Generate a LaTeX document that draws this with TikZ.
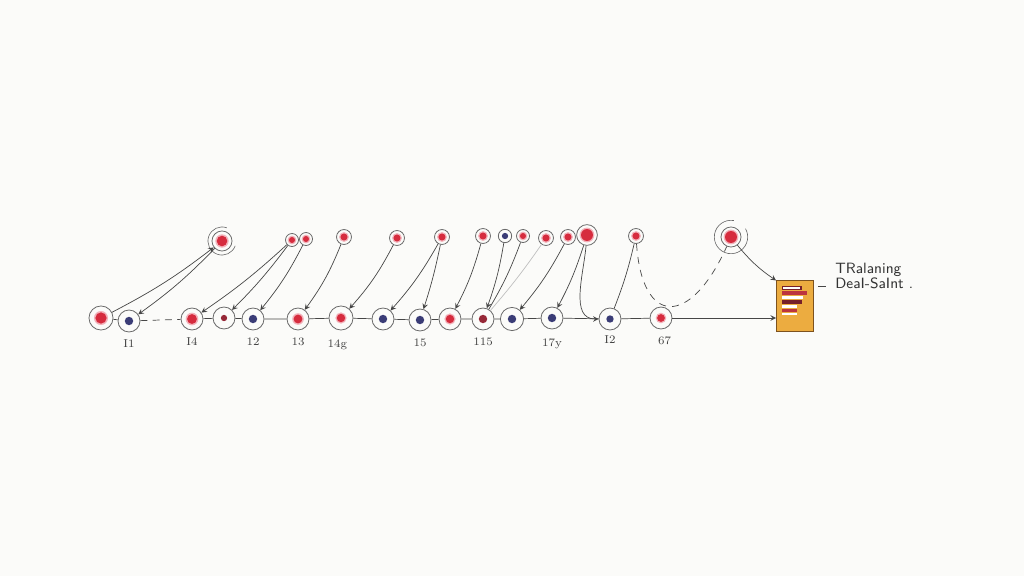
\documentclass[tikz,border=0pt]{standalone}
\usepackage{xcolor,tikz}
\usetikzlibrary{calc,positioning,arrows}
\tikzset{>=stealth}
\definecolor{paper}{RGB}{251,251,249}
\definecolor{ringgray}{RGB}{105,105,105}
\definecolor{linkgray}{RGB}{70,70,70}
\definecolor{dotred}{RGB}{214,44,62}
\definecolor{halo}{RGB}{242,178,186}
\definecolor{dotblue}{RGB}{58,60,118}
\definecolor{darkred}{RGB}{150,40,55}
\definecolor{boxfill}{RGB}{236,172,64}
\definecolor{boxedge}{RGB}{125,82,30}
\definecolor{stripered}{RGB}{188,52,62}
\definecolor{maroon}{RGB}{118,32,42}
\tikzset{
  cell/.style={circle, draw=ringgray, line width=0.45pt, inner sep=0pt, minimum size=#1},
  cell/.default=12.5pt,
  redcore/.style={path picture={\fill[halo] (path picture bounding box.center) circle ({#1+0.8pt});
                                \fill[dotred] (path picture bounding box.center) circle (#1);}},
  redcore/.default=2.8pt,
  bluecore/.style={path picture={\fill[dotblue] (path picture bounding box.center) circle (#1);}},
  bluecore/.default=2.4pt,
  link/.style={draw=linkgray, line width=0.4pt},
  faint/.style={draw=black!25},
  tag/.style={font=\fontsize{6.5}{7}\selectfont, text=black!75, inner sep=0pt},
  boxshape/.style={rectangle, draw=boxedge, line width=0.6pt, fill=boxfill,
                   minimum width=21pt, minimum height=28.5pt, inner sep=0pt},
}
\begin{document}
\begin{tikzpicture}[x=0.02cm, y=0.02cm]
        \useasboundingbox[fill=paper] (0,0) rectangle (1024,576);
        %%%% bottom row
        \node[cell=13.7pt, redcore=3.2pt] (b1) at (101,258) {};
        \node[cell, bluecore] (b2) at (129,255) {};
        \node[cell, redcore] (b3) at (192,257) {};
        \node[cell, path picture={\fill[darkred] (path picture bounding box.center) circle (1.8pt);}] (b4) at (224,258) {};
        \node[cell, bluecore] (b5) at (253,257) {};
        \node[cell, redcore=2.5pt] (b6) at (298,257) {};
        \node[cell=13.7pt, redcore=2.4pt] (b7) at (341,258) {};
        \node[cell, bluecore] (b8) at (383,257) {};
        \node[cell, bluecore] (b9) at (420,256) {};
        \node[cell, redcore=2.4pt] (b10) at (450,257) {};
        \node[cell, path picture={\fill[darkred] (path picture bounding box.center) circle (2.4pt);}] (b11) at (483,257) {};
        \node[cell=13.2pt, bluecore] (b12) at (512,257) {};
        \node[cell, bluecore] (b13) at (552,258) {};
        \node[cell, bluecore=2.1pt] (b14) at (610,257) {};
        \node[cell, redcore=2.2pt] (b15) at (661,258) {};
        \node[boxshape] (box) at (795,270) {};
        %%%% top row
        \node[cell=11.4pt, redcore=3pt] (t1) at (222,335) {};
        \node[cell=7.4pt, redcore=1.7pt] (t2) at (292,336) {};
        \node[cell=7.4pt, redcore=1.7pt] (t3) at (306,337) {};
        \node[cell=8.5pt, redcore=2pt] (t4) at (344,339) {};
        \node[cell=8.5pt, redcore=2pt] (t5) at (397,338) {};
        \node[cell=8.5pt, redcore=2pt] (t6) at (442,339) {};
        \node[cell=8.5pt, redcore=2pt] (t7) at (483,340) {};
        \node[cell=7.6pt, bluecore=1.8pt] (t8) at (505,340) {};
        \node[cell=7.4pt, redcore=1.7pt] (t9) at (523,340) {};
        \node[cell=8.5pt, redcore=2pt] (t10) at (546,338) {};
        \node[cell=8.5pt, redcore=2pt] (t11) at (568,339) {};
        \node[cell=11.8pt, redcore=3.4pt] (t12) at (587,341) {};
        \node[cell=8.5pt, redcore=2pt] (t13) at (636,340) {};
        \node[cell=11.4pt, redcore=3.4pt] (t14) at (731,339) {};
        \draw[ringgray, line width=0.35pt] ([shift={(70:8pt)}]t1.center) arc[start angle=70, end angle=340, radius=8pt];
        \draw[ringgray, line width=0.35pt] ([shift={(80:9.5pt)}]t14.center) arc[start angle=80, end angle=390, radius=9.5pt];
        %%%% stripes in the box
        \fill[maroon] ($(box.north west)+(6,-6)$) rectangle ++(20,-4);
        \fill[white] ($(box.north west)+(7,-7)$) rectangle ++(17,-2);
        \fill[stripered] ($(box.north west)+(6,-11)$) rectangle ++(25,-3.5);
        \fill[white] ($(box.north west)+(6,-16)$) rectangle ++(21,-3);
        \fill[maroon] ($(box.north west)+(6,-20)$) rectangle ++(20,-3.5);
        \fill[white] ($(box.north west)+(6,-24.5)$) rectangle ++(15,-3);
        \fill[stripered] ($(box.north west)+(6,-28.5)$) rectangle ++(15,-3);
        \fill[white] ($(box.north west)+(6,-32.5)$) rectangle ++(15,-2.5);
        %%%% baseline
        \draw[link] (b1) -- (b2);
        \draw[link, dash pattern=on 4pt off 3pt] (b2) -- (b3);
        \draw[link] (b3) -- (b4) -- (b5) -- (b6) -- (b7) -- (b8) -- (b9) -- (b10)
                    -- (b11) -- (b12) -- (b13) -- (b14) -- (b15);
        \draw[link, ->] (b15) -- (b15 -| box.west);
        %%%% curved links
        \draw[link, ->] (b1) to[bend right=5] (t1);
        \draw[link, ->] (t1) to[bend left=5] (b2);
        \draw[link, ->] (t2) to[bend left=4] (b3);
        \draw[link, ->] (t2) to[bend left=4] (b4);
        \draw[link, ->] (t3) to[bend left=6] (b5);
        \draw[link, ->] (t4) to[bend left=7] (b6);
        \draw[link, ->] (t5) to[bend left=7] (b7);
        \draw[link, ->] (t6) to[bend left=6] (b8);
        \draw[link, ->] (t6) to[bend left=3] (b9);
        \draw[link, ->] (t7) to[bend left=6] (b10);
        \draw[link, ->] (t8) to[bend left=5] (b11);
        \draw[link] (t9) to[bend left=5] (b11);
        \draw[link, faint] (t10) to[bend left=3] (b11);
        \draw[link, ->] (t11) to[bend left=6] (b12);
        \draw[link, ->] (t12) to[bend left=5] (b13);
        \draw[link, ->] (t12) to[out=-95, in=180] (b14);
        \draw[link] (b14) to[bend right=4] (t13);
        \draw[link, dash pattern=on 4pt off 3.5pt] (t13) .. controls (642,250) and (690,248) .. (t14);
        \draw[link, ->] (t14) to[bend right=8] (box.north west);
        %%%% labels
        \node[tag, below=4pt of b2] (l1) {I1};
        \node[tag, below=4pt of b3] (l2) {I4};
        \node[tag, below=4pt of b5] (l3) {12};
        \node[tag, below=4pt of b6] (l4) {13};
        \node[tag, below=5pt of b7, xshift=-2pt] (l5) {14g};
        \node[tag, below=4pt of b9] (l6) {15};
        \node[tag, below=4pt of b11] (l7) {115};
        \node[tag, below=5pt of b13] (l8) {17y};
        \node[tag, below=3pt of b14] (l9) {I2};
        \node[tag, below=4pt of b15, xshift=2pt] (l10) {67};
        %%%%
        \node[anchor=west, align=left, inner sep=0pt, font=\sffamily\fontsize{8.5}{9}\selectfont, text=black!80] (caption) at (835,300) {TRalaning\\DeaI-SaInt .};
        \coordinate (dashL) at (818,290);
        \coordinate (dashR) at (826,290);
        \draw[link] (dashL) -- (dashR);
    \end{tikzpicture}
\end{document}
